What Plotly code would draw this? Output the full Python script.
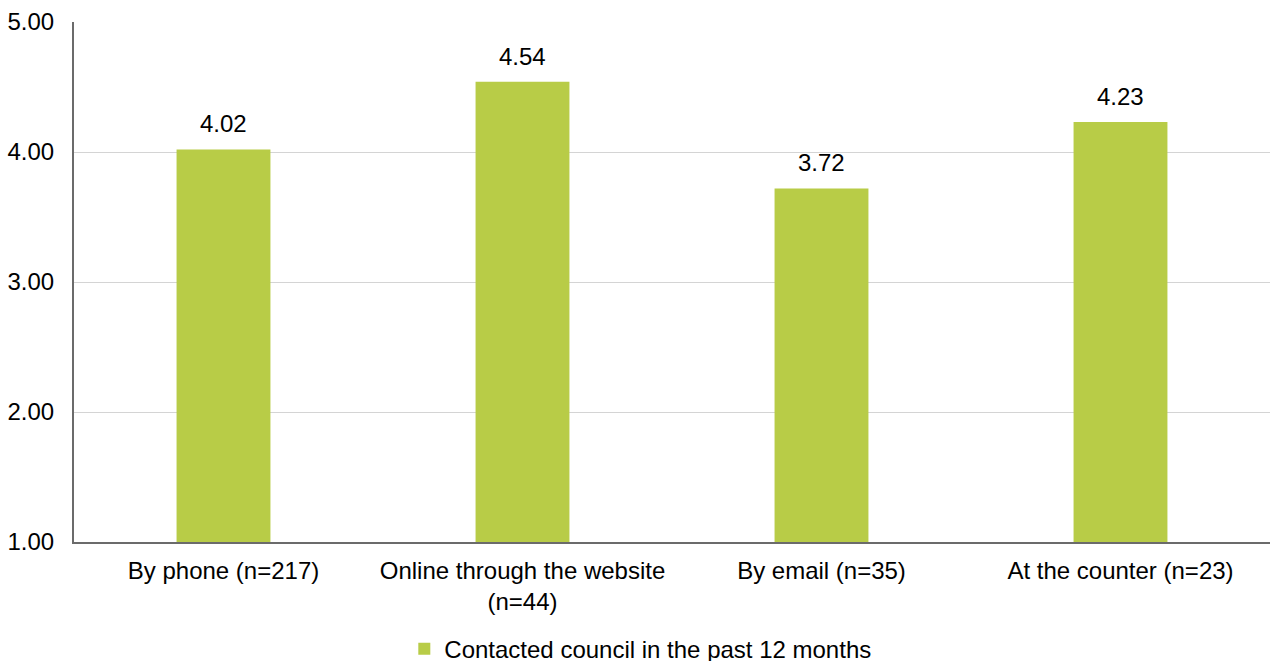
import plotly.graph_objects as go

categories = ["By phone (n=217)", "Online through the website<br>(n=44)", "By email (n=35)", "At the counter (n=23)"]
values = [4.02, 4.54, 3.72, 4.23]
series_name = "Contacted council in the past 12 months"
y_ticks = [1, 2, 3, 4, 5]
y_tick_labels = ["1.00", "2.00", "3.00", "4.00", "5.00"]

FONT = "Liberation Sans, Arial, sans-serif"
BAR = "#B8CC47"

fig = go.Figure()
fig.add_trace(go.Bar(
    x=categories, y=values, base=0, name=series_name,
    marker=dict(color=BAR, line=dict(width=0)),
    showlegend=True,
))
for c, v in zip(categories, values):
    fig.add_annotation(x=c, y=v, text=f"{v:.2f}", showarrow=False,
                       yanchor="bottom", yshift=10,
                       font=dict(family=FONT, size=24, color="#000"))

fig.update_layout(
    width=1270, height=661,
    margin=dict(l=74, r=0, t=22, b=119, autoexpand=False),
    paper_bgcolor="white", plot_bgcolor="white",
    font=dict(family=FONT, size=24, color="#000"),
    bargap=0.686,
    showlegend=True,
    legend=dict(orientation="h", x=0.4735, xanchor="center", y=-0.163, yanchor="top",
                font=dict(size=24), itemwidth=30, traceorder="normal"),
)
fig.update_xaxes(showline=True, linecolor="#6b6b6b", linewidth=2,
                 ticks="", showgrid=False, tickfont=dict(size=24),
                 ticklabelstandoff=6, automargin=False)
fig.update_yaxes(range=[1, 5], tickvals=y_ticks, ticktext=y_tick_labels,
                 showgrid=True, gridcolor="#d4d4d4", gridwidth=1,
                 showline=True, linecolor="#6b6b6b", linewidth=2,
                 ticks="", ticklabelstandoff=13, zeroline=False,
                 tickfont=dict(size=24), automargin=False)

fig.write_html("out.html")
